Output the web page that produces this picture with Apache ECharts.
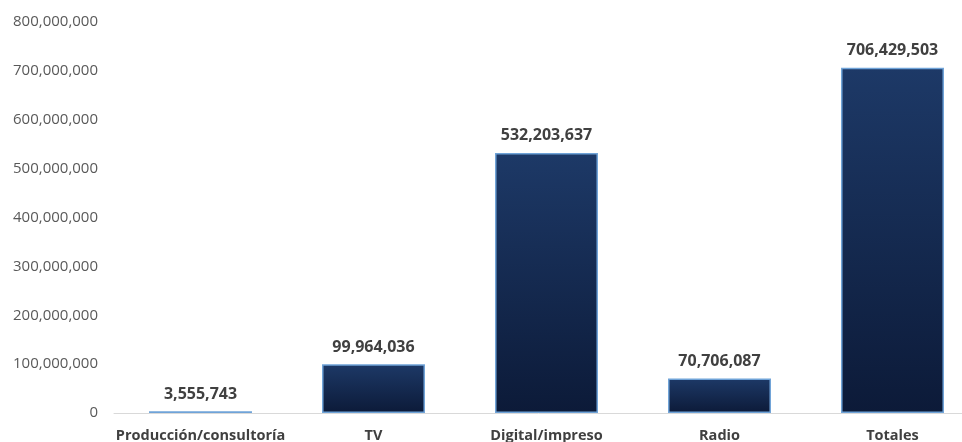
<!DOCTYPE html>
<html>
<head>
<meta charset="utf-8">
<script src="https://cdn.jsdelivr.net/npm/echarts@6/dist/echarts.min.js"></script>
<style>html,body{margin:0;padding:0;background:#fff;}#c{width:962px;height:442px;}</style>
</head>
<body>
<div id="c"></div>
<script>
var categories = ['Producción/consultoría', 'TV', 'Digital/impreso', 'Radio', 'Totales'];
var values = [3555743, 99964036, 532203637, 70706087, 706429503];
var yMin = 0, yMax = 800000000, yInterval = 100000000;

function fmt(v) { return String(v).replace(/\B(?=(\d{3})+(?!\d))/g, ','); }

var chart = echarts.init(document.getElementById('c'));
chart.setOption({
  animation: false,
  grid: { left: 114, width: 865, top: 22, bottom: 29, containLabel: false, outerBoundsMode: 'none' },
  xAxis: {
    type: 'category',
    data: categories,
    axisLine: { lineStyle: { color: '#d9d9d9', width: 1 } },
    axisTick: { show: false },
    axisLabel: { color: '#404040', fontFamily: 'Open Sans', fontWeight: 'bold', fontSize: 14.5, margin: 15, interval: 0 }
  },
  yAxis: {
    type: 'value',
    min: yMin, max: yMax, interval: yInterval,
    splitLine: { show: false },
    axisLine: { show: false },
    axisTick: { show: false },
    axisLabel: { color: '#595959', fontFamily: 'Open Sans', fontSize: 15, margin: 16, formatter: fmt }
  },
  series: [{
    type: 'bar',
    data: values,
    barWidth: '59.5%',
    itemStyle: {
      color: new echarts.graphic.LinearGradient(0, 0, 0, 1, [
        { offset: 0, color: '#1d3967' },
        { offset: 1, color: '#0c1a38' }
      ]),
      borderColor: '#6fa3d8',
      borderWidth: 1.5
    },
    label: {
      show: true,
      position: 'top',
      distance: 9,
      color: '#404040',
      fontFamily: 'Open Sans',
      fontWeight: 'bold',
      fontSize: 16,
      formatter: function (p) { return fmt(p.value); }
    }
  }]
});
</script>
</body>
</html>
